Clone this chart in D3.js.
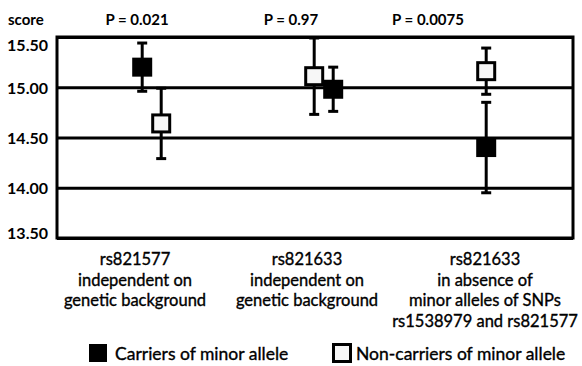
<!DOCTYPE html>
<html>
<head>
<meta charset="utf-8">
<script src="https://cdn.jsdelivr.net/npm/d3@7"></script>
<style>
  html, body { margin: 0; padding: 0; background: #fff; }
  svg { display: block; }
  text { font-family: Lato, "Open Sans", sans-serif; fill: #000; }
</style>
</head>
<body>
<svg id="chart" width="582" height="366"></svg>
<script>
// Category labels (one entry per group, lines split on "\n")
const categories = [
  "rs821577\nindependent on\ngenetic background",
  "rs821633\nindependent on\ngenetic background",
  "rs821633\nin absence of\nminor alleles of SNPs\nrs1538979 and rs821577"
];
// Mean score and error for carriers of the minor allele
const carriersMean = [15.20, 14.98, 14.40];
const carriersErr  = [0.24, 0.22, 0.45];
// Mean score and error for non-carriers of the minor allele
const nonCarriersMean = [14.64, 15.11, 15.16];
const nonCarriersErr  = [0.35, 0.38, 0.23];
// Significance per group
const pLabels = ["P = 0.021", "P = 0.97", "P = 0.0075"];
// Score axis ticks
const yTicks = [13.5, 14.0, 14.5, 15.0, 15.5];
const legendLabels = ["Carriers of minor allele", "Non-carriers of minor allele"];

const svg = d3.select("#chart");
const plot = { left: 57, right: 573, top: 37, bottom: 238 };
const plotW = plot.right - plot.left;

const x = d3.scaleBand().domain(d3.range(categories.length))
  .range([plot.left, plot.right]).paddingInner(0).paddingOuter(0);
const y = d3.scaleLinear().domain([13.5, 15.5]).range([plot.bottom, plot.top]);

// Horizontal gridlines with score labels
const yAxis = d3.axisLeft(y)
  .tickValues(yTicks)
  .tickSize(-plotW)
  .tickPadding(9)
  .tickFormat(d3.format(".2f"));

const gAxis = svg.append("g")
  .attr("transform", `translate(${plot.left},0)`)
  .call(yAxis);
gAxis.select(".domain").remove();
gAxis.selectAll(".tick line").attr("stroke", "#000").attr("stroke-width", 3);
gAxis.selectAll(".tick text")
  .attr("fill", "#000")
  .style("font-family", "Lato, sans-serif")
  .style("font-size", "16px")
  .style("font-weight", "bold")
  .attr("dy", "0.36em")
  // keep the end labels inside the plot frame
  .attr("y", d => {
    const py = y(d);
    return Math.min(Math.max(py, plot.top + 8), plot.bottom - 5) - py;
  });

// Plot frame
svg.append("rect")
  .attr("x", plot.left).attr("y", plot.top)
  .attr("width", plotW).attr("height", plot.bottom - plot.top)
  .attr("fill", "none").attr("stroke", "#000").attr("stroke-width", 3);

// Axis title
svg.append("text")
  .attr("x", 8).attr("y", 25)
  .style("font-size", "15px").style("font-weight", "bold")
  .text("score");

// P-value annotations above the groups
const pNudge = [-6, -24, -59];
svg.selectAll("text.p").data(pLabels).join("text")
  .attr("class", "p")
  .attr("x", (d, i) => x(i) + x.bandwidth() / 2 + pNudge[i])
  .attr("y", 25)
  .attr("text-anchor", "middle")
  .style("font-size", "15px").style("font-weight", "bold")
  .text(d => d);

// Series with their horizontal slot inside each group
const step = 19;
const series = [
  { name: "carriers", mean: carriersMean, err: carriersErr, slot: [0, 1, 0], fill: "#000" },
  { name: "nonCarriers", mean: nonCarriersMean, err: nonCarriersErr, slot: [1, 0, 0], fill: "#f7f7f7" }
];
const cx = (s, i) => x(i) + x.bandwidth() / 2 - 0.8 + s.slot[i] * step;

series.forEach(s => {
  const g = svg.append("g").attr("class", s.name);
  const pts = s.mean.map((m, i) => ({ i, m, e: s.err[i] }));
  // error whiskers
  g.selectAll("line.whisker").data(pts).join("line")
    .attr("x1", d => cx(s, d.i)).attr("x2", d => cx(s, d.i))
    .attr("y1", d => y(d.m + d.e)).attr("y2", d => y(d.m - d.e))
    .attr("stroke", "#000").attr("stroke-width", 3);
  ["+", "-"].forEach(sign => {
    g.selectAll("line.cap" + (sign === "+" ? "hi" : "lo")).data(pts).join("line")
      .attr("x1", d => cx(s, d.i) - 5).attr("x2", d => cx(s, d.i) + 5)
      .attr("y1", d => y(sign === "+" ? d.m + d.e : d.m - d.e))
      .attr("y2", d => y(sign === "+" ? d.m + d.e : d.m - d.e))
      .attr("stroke", "#000").attr("stroke-width", 3);
  });
});
series.forEach(s => {
  const pts = s.mean.map((m, i) => ({ i, m }));
  const filled = s.name === "carriers";
  svg.append("g").selectAll("rect").data(pts).join("rect")
    .attr("x", d => cx(s, d.i) - (filled ? 10 : 8.5))
    .attr("y", d => y(d.m) - (filled ? 9.5 : 8.5))
    .attr("width", filled ? 20 : 17)
    .attr("height", filled ? 19 : 17)
    .attr("fill", s.fill)
    .attr("stroke", filled ? "none" : "#000")
    .attr("stroke-width", 3);
});

// Group labels below the plot
const labelNudge = [-8, -8, -2];
const gLabels = svg.selectAll("text.cat").data(categories).join("text")
  .attr("class", "cat")
  .attr("text-anchor", "middle")
  .style("font-size", "16.5px")
  .attr("stroke", "#000").attr("stroke-width", 0.35);
gLabels.each(function (d, i) {
  d3.select(this).selectAll("tspan").data(d.split("\n")).join("tspan")
    .attr("x", x(i) + x.bandwidth() / 2 + labelNudge[i])
    .attr("y", (t, k) => 265 + k * 20.6)
    .text(t => t);
});

// Legend
const legend = [
  { label: legendLabels[0], fill: "#000", tx: 115 },
  { label: legendLabels[1], fill: "#f7f7f7", tx: 356 }
];
svg.append("rect")
  .attr("x", 89).attr("y", 344).attr("width", 18).attr("height", 18)
  .attr("fill", legend[0].fill);
svg.append("rect")
  .attr("x", 333.5).attr("y", 344.5).attr("width", 17).attr("height", 17)
  .attr("fill", legend[1].fill)
  .attr("stroke", "#000").attr("stroke-width", 3);
legend.forEach(l => {
  svg.append("text")
    .attr("x", l.tx).attr("y", 360)
    .style("font-size", "17.5px")
    .attr("stroke", "#000").attr("stroke-width", 0.35)
    .text(l.label);
});
</script>
</body>
</html>
